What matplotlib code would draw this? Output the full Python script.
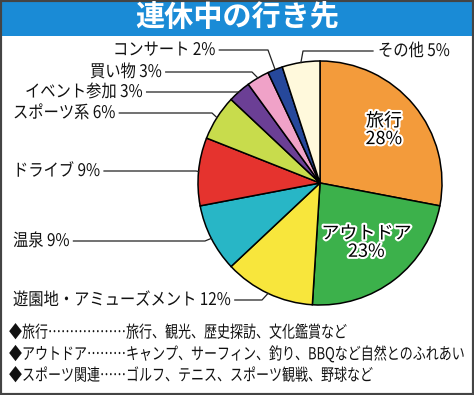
import matplotlib
matplotlib.use('Agg')
import matplotlib.pyplot as plt
import matplotlib.patheffects as pe
from matplotlib.patches import Rectangle
from matplotlib.lines import Line2D
from matplotlib.text import Text
from matplotlib.transforms import Affine2D, Bbox
import numpy as np

plt.rcParams['font.family'] = ['Noto Sans CJK JP', 'DejaVu Sans']

# data
categories = ['旅行', 'アウトドア', '遊園地・アミューズメント', '温泉', 'ドライブ',
              'スポーツ系', 'イベント参加', '買い物', 'コンサート', 'その他']
shares = [28, 23, 12, 9, 9, 6, 3, 3, 2, 5]
colors = ['#f39b3b', '#3cb14b', '#f8e63c', '#28b6c6', '#e5332e',
          '#c8dc4c', '#6b3f95', '#f0a2c8', '#26489b', '#fff9dc']

title = '連休中の行き先'
notes_left = ['◆旅行' + '…' * 6, '◆アウトドア' + '…' * 3, '◆スポーツ関連' + '…' * 2]
notes_right = ['旅行、観光、歴史探訪、文化鑑賞など',
               'キャンプ、サーフィン、釣り、BBQなど自然とのふれあい',
               'ゴルフ、テニス、スポーツ観戦、野球など']


class HScale(pe.AbstractPathEffect):
    """squeeze glyphs horizontally (condensed look), anchored at line start"""
    def __init__(self, sx):
        super().__init__()
        self.sx = sx

    def draw_path(self, renderer, gc, tpath, affine, rgbFace=None):
        renderer.draw_path(gc, tpath, Affine2D().scale(self.sx, 1) + affine, rgbFace)


class SqueezedText(Text):
    """left-aligned text drawn condensed; reports the squeezed extent"""
    def __init__(self, x, y, s, sx=0.85, **kw):
        super().__init__(x, y, s, ha='left', **kw)
        self.sx = sx
        self.set_path_effects([HScale(sx)])

    def get_window_extent(self, renderer=None, dpi=None):
        bb = super().get_window_extent(renderer, dpi)
        return Bbox.from_extents(bb.x0, bb.y0, bb.x0 + bb.width * self.sx, bb.y1)


W, H = 474, 395
fig = plt.figure(figsize=(W / 100, H / 100), dpi=100)
fig.patch.set_facecolor('white')

def fp(px, py):
    # pixel (from top-left) -> figure fraction
    return px / W, 1 - py / H

# pie axes: centre (320, 183), radius 122 px
cx, cy, R = 320, 183, 122
ax = fig.add_axes([(cx - R) / W, (H - cy - R) / H, 2 * R / W, 2 * R / H])
wedges, _ = ax.pie(shares, colors=colors, startangle=90, counterclock=False,
                   wedgeprops=dict(edgecolor='black', linewidth=1.1))
ax.set_xlim(-1, 1)
ax.set_ylim(-1, 1)
ax.set_aspect('equal')
ax.axis('off')

# labels inside the two big slices
halo = [pe.withStroke(linewidth=3, foreground='white')]
for i, r in [(0, 0.68), (1, 0.62)]:
    w = wedges[i]
    mid = np.deg2rad((w.theta1 + w.theta2) / 2)
    ax.text(r * np.cos(mid), r * np.sin(mid), f'{categories[i]}\n{shares[i]}%',
            ha='center', va='center', fontsize=13, linespacing=1.0,
            path_effects=halo)

# outside labels: text left x, text y, elbow x (pixels)
layout = {
    2: (13, 300, 262),
    3: (13, 241, 205),
    4: (13, 171, 196),
    5: (13, 113, 212),
    6: (25, 92, 238),
    7: (90, 72, 252),
    8: (113, 50, 268),
    9: (378, 51, 303),
}
fig.canvas.draw()
renderer = fig.canvas.get_renderer()
inv = fig.transFigure.inverted()
for i, (tx, ty, ex) in layout.items():
    t = fig.add_artist(SqueezedText(*fp(tx, ty), f'{categories[i]} {shares[i]}%', sx=0.88,
                                    va='center', fontsize=12.5, color='#111111',
                                    transform=fig.transFigure))
    bb = t.get_window_extent(renderer)
    x0 = inv.transform((bb.x0, 0))[0]
    x1 = inv.transform((bb.x1, 0))[0]
    w = wedges[i]
    mid = np.deg2rad((w.theta1 + w.theta2) / 2)
    wp = inv.transform(ax.transData.transform((np.cos(mid), np.sin(mid))))
    ey = fp(0, ty)[1]
    exf = ex / W
    if exf > x1:
        xs = [x1 + 4 / W, exf, wp[0]]
    else:
        xs = [x0 - 5 / W, exf, wp[0]]
    ys = [ey, ey, wp[1]]
    fig.add_artist(Line2D(xs, ys, color='#222222', lw=0.9, transform=fig.transFigure))

# title bar
fig.add_artist(Rectangle((0, 1 - 36 / H), 1, 36 / H, transform=fig.transFigure,
                         facecolor='#1a8bd6', edgecolor='none'))
fig.text(*fp(237, 18), title, ha='center', va='center', fontsize=21,
         fontweight='bold', color='white')

# notes at the bottom (dot leaders line the second column up)
for k, (l, r) in enumerate(zip(notes_left, notes_right)):
    y = 333 + k * 21.5
    fig.add_artist(SqueezedText(*fp(9, y), l + r, sx=0.78, va='center', fontsize=12,
                                color='#111111', transform=fig.transFigure))

# outer frame
fig.add_artist(Rectangle((0, 0), 1, 1, transform=fig.transFigure, fill=False,
                         edgecolor='#444444', linewidth=3))

fig.savefig('out.png', dpi=100)
